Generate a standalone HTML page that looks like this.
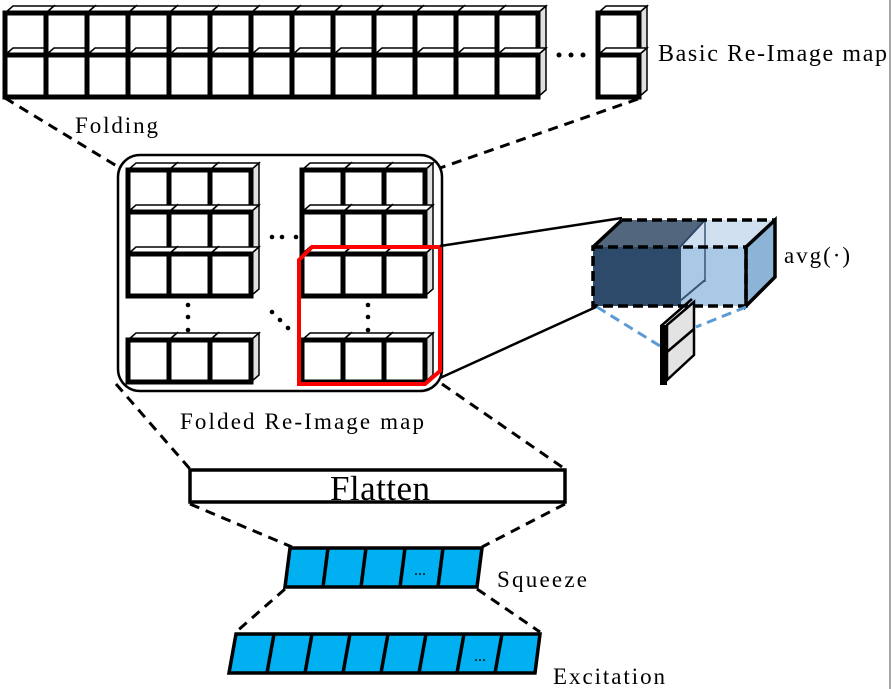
<!DOCTYPE html>
<html><head><meta charset="utf-8"><style>
html,body{margin:0;padding:0;background:#fff}
svg{display:block}
text{font-family:"Liberation Serif",serif;fill:#000}
</style></head><body>
<svg width="891" height="689" viewBox="0 0 891 689" xmlns="http://www.w3.org/2000/svg">
<defs>
<g id="cell">
<polygon points="0,0 8,-7 49,-7 41,0" fill="#fff" stroke="#000" stroke-width="1.5"/>
<polygon points="41,0 49,-7 49,35 41,42" fill="#e0e0e0" stroke="#000" stroke-width="1.5"/>
<rect x="0" y="0" width="41" height="42" fill="#fff" stroke="#000" stroke-width="5"/>
</g>
</defs>
<line x1="890" y1="0" x2="890" y2="689" stroke="#888" stroke-width="1.5"/>
<g>
<use href="#cell" x="5" y="13"/><use href="#cell" x="5" y="55"/>
<use href="#cell" x="46" y="13"/><use href="#cell" x="46" y="55"/>
<use href="#cell" x="87" y="13"/><use href="#cell" x="87" y="55"/>
<use href="#cell" x="128" y="13"/><use href="#cell" x="128" y="55"/>
<use href="#cell" x="169" y="13"/><use href="#cell" x="169" y="55"/>
<use href="#cell" x="210" y="13"/><use href="#cell" x="210" y="55"/>
<use href="#cell" x="251" y="13"/><use href="#cell" x="251" y="55"/>
<use href="#cell" x="292" y="13"/><use href="#cell" x="292" y="55"/>
<use href="#cell" x="333" y="13"/><use href="#cell" x="333" y="55"/>
<use href="#cell" x="374" y="13"/><use href="#cell" x="374" y="55"/>
<use href="#cell" x="415" y="13"/><use href="#cell" x="415" y="55"/>
<use href="#cell" x="456" y="13"/><use href="#cell" x="456" y="55"/>
<use href="#cell" x="497" y="13"/><use href="#cell" x="497" y="55"/>
<circle cx="559" cy="55" r="2.5"/><circle cx="571" cy="55" r="2.5"/><circle cx="583" cy="55" r="2.5"/>
<use href="#cell" x="598" y="13"/><use href="#cell" x="598" y="55"/>
</g>
<text x="658" y="61" font-size="24" textLength="229" lengthAdjust="spacing">Basic Re-Image map</text>
<text x="75" y="133" font-size="23" textLength="83" lengthAdjust="spacing">Folding</text>
<line x1="5" y1="98" x2="120" y2="168" stroke="#000" stroke-width="3" stroke-dasharray="10,7"/>
<line x1="638" y1="99" x2="440" y2="168" stroke="#000" stroke-width="3" stroke-dasharray="10,7"/>
<rect x="118" y="155" width="324" height="236" rx="22" fill="#fff" stroke="#000" stroke-width="2.5"/>
<g>
<use href="#cell" x="128" y="170"/><use href="#cell" x="169" y="170"/><use href="#cell" x="210" y="170"/>
<use href="#cell" x="128" y="212"/><use href="#cell" x="169" y="212"/><use href="#cell" x="210" y="212"/>
<use href="#cell" x="128" y="254"/><use href="#cell" x="169" y="254"/><use href="#cell" x="210" y="254"/>
<use href="#cell" x="128" y="340"/><use href="#cell" x="169" y="340"/><use href="#cell" x="210" y="340"/>
<use href="#cell" x="302" y="170"/><use href="#cell" x="343" y="170"/><use href="#cell" x="384" y="170"/>
<use href="#cell" x="302" y="212"/><use href="#cell" x="343" y="212"/><use href="#cell" x="384" y="212"/>
<use href="#cell" x="302" y="254"/><use href="#cell" x="343" y="254"/><use href="#cell" x="384" y="254"/>
<use href="#cell" x="302" y="340"/><use href="#cell" x="343" y="340"/><use href="#cell" x="384" y="340"/>
</g>
<g fill="#000">
<circle cx="272" cy="237" r="2.3"/><circle cx="282" cy="237" r="2.3"/><circle cx="296" cy="237" r="2.3"/>
<circle cx="188" cy="305" r="2.3"/><circle cx="188" cy="317" r="2.3"/><circle cx="188" cy="330" r="2.3"/>
<circle cx="368" cy="305" r="2.3"/><circle cx="368" cy="317" r="2.3"/><circle cx="368" cy="330" r="2.3"/>
<circle cx="272" cy="312" r="2.3"/><circle cx="280" cy="320" r="2.3"/><circle cx="288" cy="328" r="2.3"/>
</g>
<polygon points="299,260 312,247 440,247 440,371 425,384 299,384" fill="none" stroke="#f00" stroke-width="4"/>
<line x1="440" y1="246" x2="622" y2="218" stroke="#000" stroke-width="2.5"/>
<line x1="440" y1="378" x2="596" y2="307" stroke="#000" stroke-width="2.5"/>
<text x="180" y="429" font-size="23" textLength="244" lengthAdjust="spacing">Folded Re-Image map</text>
<polygon points="622,220 705,220 680,247 593,247" fill="#52667d"/>
<polygon points="705,220 775,220 746,247 680,247" fill="#d0e0f0"/>
<rect x="593" y="247" width="88" height="59" fill="#2e4a6a"/>
<rect x="681" y="247" width="65" height="59" fill="#a9c9e6"/>
<polygon points="746,247 775,220 775,277 746,306" fill="#8db3d6"/>
<line x1="680" y1="247" x2="705" y2="220" stroke="#2e4a6a" stroke-width="2"/>
<line x1="705" y1="220" x2="705" y2="282" stroke="#3a5570" stroke-width="1.5"/>
<line x1="680" y1="301" x2="705" y2="280" stroke="#3a5570" stroke-width="2"/>
<g fill="none" stroke="#000" stroke-width="3.5" stroke-dasharray="10,5">
<polygon points="593,247 746,247 746,306 593,306"/>
<line x1="622" y1="220" x2="775" y2="220"/>
</g>
<line x1="593" y1="247" x2="622" y2="220" stroke="#000" stroke-width="3.5"/>
<polygon points="746,247 775,220 775,277 746,306" fill="none" stroke="#000" stroke-width="3.5"/>
<line x1="597" y1="307" x2="660" y2="346" stroke="#5b9bd5" stroke-width="3" stroke-dasharray="10,6"/>
<line x1="746" y1="307" x2="696" y2="327" stroke="#5b9bd5" stroke-width="3" stroke-dasharray="10,6"/>
<polygon points="667,325 694,302 694,355 667,380" fill="#e3e3e3" stroke="#000" stroke-width="2.5"/>
<line x1="667" y1="352" x2="694" y2="329" stroke="#000" stroke-width="2.5"/>
<line x1="661" y1="326" x2="692" y2="299" stroke="#000" stroke-width="2.5"/>
<rect x="660" y="325" width="7" height="60" fill="#000"/>
<text x="784" y="263" font-size="23" textLength="66" lengthAdjust="spacing">avg(·)</text>
<line x1="116" y1="384" x2="190" y2="469" stroke="#000" stroke-width="3" stroke-dasharray="10,7"/>
<line x1="442" y1="384" x2="565" y2="469" stroke="#000" stroke-width="3" stroke-dasharray="10,7"/>
<rect x="190" y="470" width="375" height="32" fill="#fff" stroke="#000" stroke-width="3.5"/>
<text x="380" y="500" font-size="35" text-anchor="middle" textLength="100" lengthAdjust="spacing">Flatten</text>
<line x1="190" y1="504" x2="292" y2="547" stroke="#000" stroke-width="3" stroke-dasharray="10,7"/>
<line x1="565" y1="504" x2="482" y2="547" stroke="#000" stroke-width="3" stroke-dasharray="10,7"/>
<g stroke="#000" stroke-width="3.5" fill="#00b0f0">
<polygon points="290,548 482,548 477,587 285,587"/>
<line x1="328" y1="548" x2="323" y2="587"/>
<line x1="366" y1="548" x2="361" y2="587"/>
<line x1="405" y1="548" x2="400" y2="587"/>
<line x1="443" y1="548" x2="438" y2="587"/>
</g>
<text x="420" y="575" font-size="16" text-anchor="middle">...</text>
<text x="497" y="587" font-size="23" textLength="90" lengthAdjust="spacing">Squeeze</text>
<line x1="285" y1="589" x2="236" y2="632" stroke="#000" stroke-width="3" stroke-dasharray="10,7"/>
<line x1="477" y1="589" x2="540" y2="632" stroke="#000" stroke-width="3" stroke-dasharray="10,7"/>
<g stroke="#000" stroke-width="3.5" fill="#00b0f0">
<polygon points="236,634 540,634 535,673 229,673"/>
<line x1="274" y1="634" x2="267" y2="673"/>
<line x1="312" y1="634" x2="305" y2="673"/>
<line x1="350" y1="634" x2="343" y2="673"/>
<line x1="388" y1="634" x2="381" y2="673"/>
<line x1="426" y1="634" x2="419" y2="673"/>
<line x1="464" y1="634" x2="457" y2="673"/>
<line x1="502" y1="634" x2="495" y2="673"/>
</g>
<text x="480" y="661" font-size="16" text-anchor="middle">...</text>
<text x="553" y="684" font-size="23" textLength="112" lengthAdjust="spacing">Excitation</text>
</svg>
</body></html>
